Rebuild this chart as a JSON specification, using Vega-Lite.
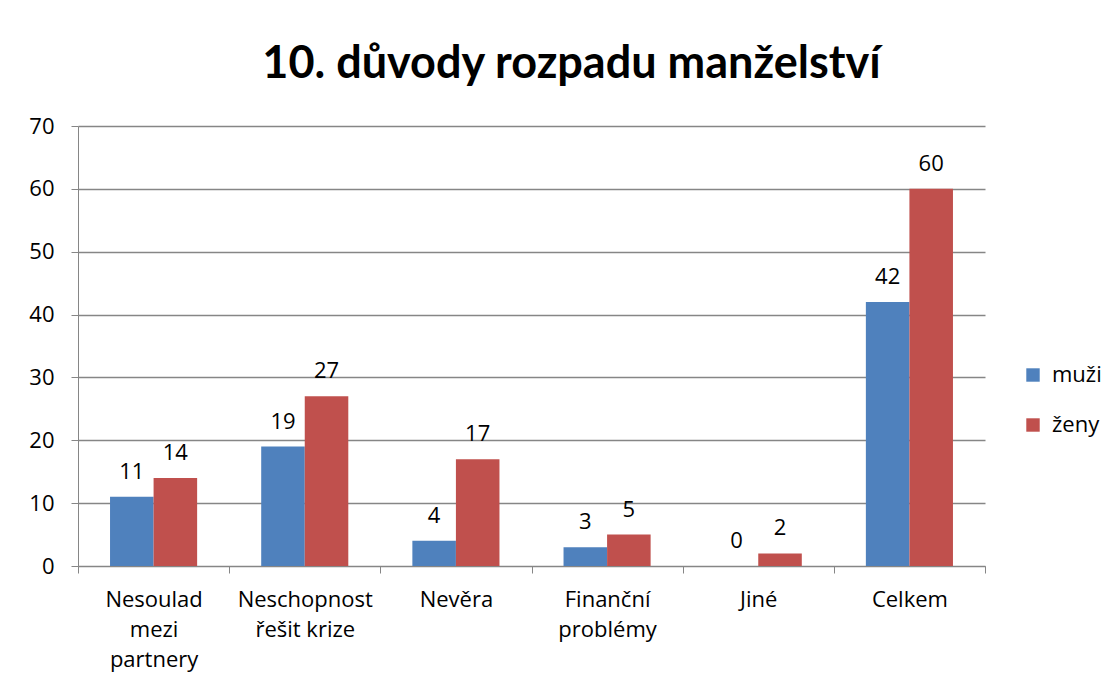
{
  "$schema": "https://vega.github.io/schema/vega-lite/v6.json",
  "autosize": "none",
  "width": 907,
  "height": 440,
  "padding": {"left": 78, "top": 126, "right": 129, "bottom": 124},
  "background": "white",
  "title": {
    "text": "10. důvody rozpadu manželství",
    "font": "Lato",
    "fontSize": 45,
    "fontWeight": "bold",
    "color": "#000000",
    "anchor": "middle",
    "dx": 40,
    "dy": 50,
    "baseline": "alphabetic",
    "offset": 42
  },
  "data": {
    "values": [
      {"duvod": "Nesoulad mezi partnery", "pohlavi": "muži", "pocet": 11},
      {"duvod": "Nesoulad mezi partnery", "pohlavi": "ženy", "pocet": 14},
      {"duvod": "Neschopnost řešit krize", "pohlavi": "muži", "pocet": 19},
      {"duvod": "Neschopnost řešit krize", "pohlavi": "ženy", "pocet": 27},
      {"duvod": "Nevěra", "pohlavi": "muži", "pocet": 4},
      {"duvod": "Nevěra", "pohlavi": "ženy", "pocet": 17},
      {"duvod": "Finanční problémy", "pohlavi": "muži", "pocet": 3},
      {"duvod": "Finanční problémy", "pohlavi": "ženy", "pocet": 5},
      {"duvod": "Jiné", "pohlavi": "muži", "pocet": 0},
      {"duvod": "Jiné", "pohlavi": "ženy", "pocet": 2},
      {"duvod": "Celkem", "pohlavi": "muži", "pocet": 42},
      {"duvod": "Celkem", "pohlavi": "ženy", "pocet": 60}
    ]
  },
  "encoding": {
    "x": {
      "field": "duvod",
      "type": "nominal",
      "sort": null,
      "scale": {"paddingInner": 0, "paddingOuter": 0},
      "axis": {
        "title": null,
        "labelAngle": 0,
        "labelFont": "Open Sans",
        "labelFontSize": 22,
        "labelColor": "#000000",
        "labelBaseline": "top",
        "labelPadding": 16,
        "labelLineHeight": 30,
        "tickBand": "extent",
        "tickSize": 7,
        "tickColor": "#868686",
        "domainColor": "#868686",
        "labelExpr": "datum.label == 'Nesoulad mezi partnery' ? ['Nesoulad','mezi','partnery'] : datum.label == 'Neschopnost řešit krize' ? ['Neschopnost','řešit krize'] : datum.label == 'Finanční problémy' ? ['Finanční','problémy'] : datum.label"
      }
    },
    "xOffset": {
      "field": "pohlavi",
      "type": "nominal",
      "scale": {"paddingInner": 0, "paddingOuter": 0.7356}
    },
    "y": {
      "field": "pocet",
      "type": "quantitative",
      "scale": {"domain": [0, 70], "nice": false},
      "axis": {
        "title": null,
        "values": [0, 10, 20, 30, 40, 50, 60, 70],
        "labelFont": "Open Sans",
        "labelFontSize": 22,
        "labelColor": "#000000",
        "labelPadding": 17,
        "tickSize": 7,
        "tickColor": "#868686",
        "domainColor": "#868686",
        "gridColor": "#868686",
        "gridWidth": 1.3
      }
    },
    "color": {
      "field": "pohlavi",
      "type": "nominal",
      "scale": {"domain": ["muži", "ženy"], "range": ["#4F81BD", "#C0504D"]},
      "legend": {
        "title": null,
        "orient": "none",
        "legendX": 944,
        "legendY": 238,
        "padding": 0,
        "symbolType": "square",
        "symbolSize": 180,
        "symbolStrokeWidth": 0,
        "symbolOpacity": 1,
        "labelFont": "Open Sans",
        "labelFontSize": 22,
        "labelColor": "#000000",
        "labelOffset": 8,
        "rowPadding": 28
      }
    }
  },
  "layer": [
    {"mark": {"type": "bar", "opacity": 1}},
    {
      "mark": {"type": "text", "baseline": "alphabetic", "dy": -18, "font": "Open Sans", "fontSize": 22, "color": "#000000"},
      "encoding": {
        "text": {"field": "pocet", "type": "quantitative"},
        "color": {"value": "#000000"}
      }
    }
  ],
  "config": {
    "view": {"stroke": null},
    "axis": {"gridColor": "#868686"}
  }
}
